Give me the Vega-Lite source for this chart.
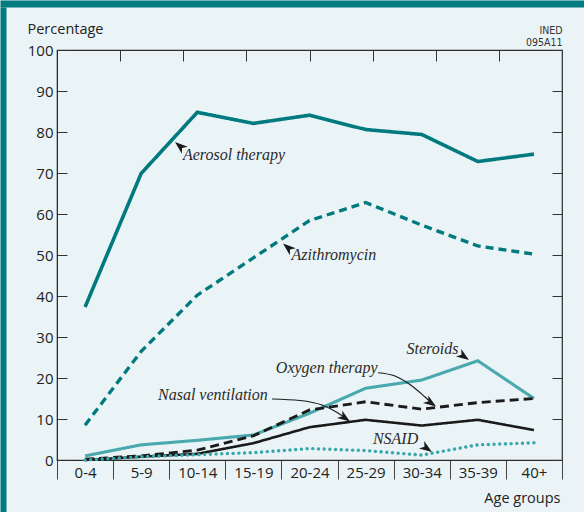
{
  "$schema": "https://vega.github.io/schema/vega-lite/v6.json",
  "width": 505,
  "height": 410,
  "autosize": {"type": "none"},
  "padding": {"left": 57, "top": 50, "right": 22, "bottom": 52},
  "background": "#eaf4f6",
  "config": {
    "view": {"stroke": "#2b2b2b", "strokeWidth": 1.2},
    "axis": {"grid": false, "labelFont": "Open Sans", "titleFont": "Open Sans", "labelColor": "#222", "titleColor": "#222", "tickColor": "#333", "domainColor": "#2b2b2b", "titleFontWeight": "normal"}
  },
  "datasets": {
    "series": [
      {"age": "0-4", "series": "Aerosol therapy", "value": 37.3},
      {"age": "5-9", "series": "Aerosol therapy", "value": 69.9},
      {"age": "10-14", "series": "Aerosol therapy", "value": 84.8},
      {"age": "15-19", "series": "Aerosol therapy", "value": 82.1},
      {"age": "20-24", "series": "Aerosol therapy", "value": 84.1},
      {"age": "25-29", "series": "Aerosol therapy", "value": 80.6},
      {"age": "30-34", "series": "Aerosol therapy", "value": 79.4},
      {"age": "35-39", "series": "Aerosol therapy", "value": 72.8},
      {"age": "40+", "series": "Aerosol therapy", "value": 74.6},
      {"age": "0-4", "series": "Azithromycin", "value": 8.5},
      {"age": "5-9", "series": "Azithromycin", "value": 26.5},
      {"age": "10-14", "series": "Azithromycin", "value": 40.2},
      {"age": "15-19", "series": "Azithromycin", "value": 49.3},
      {"age": "20-24", "series": "Azithromycin", "value": 58.4},
      {"age": "25-29", "series": "Azithromycin", "value": 62.8},
      {"age": "30-34", "series": "Azithromycin", "value": 57.3},
      {"age": "35-39", "series": "Azithromycin", "value": 52.2},
      {"age": "40+", "series": "Azithromycin", "value": 50.2},
      {"age": "0-4", "series": "Steroids", "value": 1.0},
      {"age": "5-9", "series": "Steroids", "value": 3.7},
      {"age": "10-14", "series": "Steroids", "value": 4.8},
      {"age": "15-19", "series": "Steroids", "value": 6.1},
      {"age": "20-24", "series": "Steroids", "value": 11.4},
      {"age": "25-29", "series": "Steroids", "value": 17.5},
      {"age": "30-34", "series": "Steroids", "value": 19.5},
      {"age": "35-39", "series": "Steroids", "value": 24.2},
      {"age": "40+", "series": "Steroids", "value": 15.0},
      {"age": "0-4", "series": "Oxygen therapy", "value": 0.2},
      {"age": "5-9", "series": "Oxygen therapy", "value": 1.0},
      {"age": "10-14", "series": "Oxygen therapy", "value": 2.4},
      {"age": "15-19", "series": "Oxygen therapy", "value": 5.9},
      {"age": "20-24", "series": "Oxygen therapy", "value": 12.2},
      {"age": "25-29", "series": "Oxygen therapy", "value": 14.2},
      {"age": "30-34", "series": "Oxygen therapy", "value": 12.4},
      {"age": "35-39", "series": "Oxygen therapy", "value": 14.0},
      {"age": "40+", "series": "Oxygen therapy", "value": 15.0},
      {"age": "0-4", "series": "Nasal ventilation", "value": 0.0},
      {"age": "5-9", "series": "Nasal ventilation", "value": 0.8},
      {"age": "10-14", "series": "Nasal ventilation", "value": 1.5},
      {"age": "15-19", "series": "Nasal ventilation", "value": 4.1},
      {"age": "20-24", "series": "Nasal ventilation", "value": 8.0},
      {"age": "25-29", "series": "Nasal ventilation", "value": 9.8},
      {"age": "30-34", "series": "Nasal ventilation", "value": 8.4},
      {"age": "35-39", "series": "Nasal ventilation", "value": 9.8},
      {"age": "40+", "series": "Nasal ventilation", "value": 7.3},
      {"age": "0-4", "series": "NSAID", "value": 0.0},
      {"age": "5-9", "series": "NSAID", "value": 0.8},
      {"age": "10-14", "series": "NSAID", "value": 1.3},
      {"age": "15-19", "series": "NSAID", "value": 1.8},
      {"age": "20-24", "series": "NSAID", "value": 2.8},
      {"age": "25-29", "series": "NSAID", "value": 2.3},
      {"age": "30-34", "series": "NSAID", "value": 1.2},
      {"age": "35-39", "series": "NSAID", "value": 3.7},
      {"age": "40+", "series": "NSAID", "value": 4.2}
    ],
    "notes": [
      {"label": "Aerosol therapy", "gx": 2.245, "value": 74.4},
      {"label": "Azithromycin", "gx": 4.18, "value": 50.0},
      {"label": "Steroids", "gx": 6.23, "value": 27.1},
      {"label": "Oxygen therapy", "gx": 3.9, "value": 22.4},
      {"label": "Nasal ventilation", "gx": 1.8, "value": 15.9},
      {"label": "NSAID", "gx": 5.63, "value": 5.1}
    ],
    "leaders": [
      {"arrow": "Oxygen therapy", "step": 1, "gx": 5.721, "value": 21.29},
      {"arrow": "Oxygen therapy", "step": 2, "gx": 6.024, "value": 20.49},
      {"arrow": "Oxygen therapy", "step": 3, "gx": 6.327, "value": 18.05},
      {"arrow": "Oxygen therapy", "step": 4, "gx": 6.559, "value": 15.37},
      {"arrow": "Oxygen therapy", "step": 5, "gx": 6.719, "value": 13.41},
      {"arrow": "Nasal ventilation", "step": 1, "gx": 3.832, "value": 14.88},
      {"arrow": "Nasal ventilation", "step": 2, "gx": 4.331, "value": 14.51},
      {"arrow": "Nasal ventilation", "step": 3, "gx": 4.723, "value": 13.41},
      {"arrow": "Nasal ventilation", "step": 4, "gx": 5.008, "value": 11.46},
      {"arrow": "Nasal ventilation", "step": 5, "gx": 5.186, "value": 9.76}
    ],
    "tips": [
      {"arrow": "Aerosol therapy", "gx": 2.103, "value": 77.56, "pointing": "up-left"},
      {"arrow": "Azithromycin", "gx": 4.028, "value": 52.8, "pointing": "up-left"},
      {"arrow": "Steroids", "gx": 7.343, "value": 24.39, "pointing": "down-right"},
      {"arrow": "NSAID", "gx": 6.683, "value": 1.95, "pointing": "down-right"},
      {"arrow": "Oxygen therapy", "gx": 6.755, "value": 13.05, "pointing": "down-right"},
      {"arrow": "Nasal ventilation", "gx": 5.222, "value": 9.39, "pointing": "down-right"}
    ]
  },
  "layer": [
    {
      "data": {"values": [{}]},
      "mark": {"type": "point", "opacity": 0},
      "encoding": {
        "x": {"datum": 0, "type": "quantitative", "scale": {"domain": [0, 1], "range": [-57, 527]}, "axis": {"orient": "top", "offset": 46.5, "domainColor": "#007b80", "domainWidth": 7, "ticks": false, "labels": false, "title": null}},
        "y": {"datum": 0, "type": "quantitative", "scale": {"domain": [0, 1], "range": [462, -43]}, "axis": {"orient": "left", "offset": 54, "domainColor": "#007b80", "domainWidth": 6, "ticks": false, "labels": false, "title": null}}
      }
    },
    {
      "data": {"values": [{}]},
      "mark": {"type": "point", "opacity": 0},
      "encoding": {
        "x": {"datum": 0, "type": "quantitative", "scale": {"domain": [0, 8], "nice": false}, "axis": {"orient": "top", "values": [1, 2, 3, 4, 5, 6, 7], "tickSize": -11, "tickColor": "#333", "labels": false, "domain": false, "title": ["INED", "095A11"], "titleFont": "Liberation Sans Narrow, DejaVu Sans Condensed, sans-serif", "titleFontSize": 10.5, "titleLineHeight": 12, "titleX": 505, "titleY": -17, "titleAlign": "right", "titleBaseline": "alphabetic", "titleColor": "#333"}},
        "y": {"datum": 0, "type": "quantitative", "scale": {"domain": [0, 100], "nice": false}, "axis": {"orient": "right", "values": [0, 10, 20, 30, 40, 50, 60, 70, 80, 90, 100], "tickSize": -10, "labels": false, "domain": false, "title": null}}
      }
    },
    {
      "data": {"name": "series"},
      "transform": [{"filter": "datum.series !== 'NSAID'"}],
      "mark": {"type": "line", "strokeCap": "butt", "strokeJoin": "miter"},
      "encoding": {
        "x": {"field": "age", "type": "ordinal", "scale": {"type": "band", "domain": ["0-4", "5-9", "10-14", "15-19", "20-24", "25-29", "30-34", "35-39", "40+"], "paddingInner": 0, "paddingOuter": 0}, "axis": {"orient": "bottom", "title": "Age groups", "titleFontSize": 14.5, "titleX": 503, "titleY": 42, "titleAlign": "right", "titleAnchor": null, "titleBaseline": "alphabetic", "labelAngle": 0, "labelFontSize": 15, "tickBand": "extent", "tickSize": 19, "tickColor": "#444", "labelPadding": -2, "labelBaseline": "alphabetic", "domainColor": "#2b2b2b"}},
        "y": {"field": "value", "type": "quantitative", "scale": {"domain": [0, 100], "nice": false}, "axis": {"orient": "left", "values": [0, 10, 20, 30, 40, 50, 60, 70, 80, 90, 100], "tickSize": -10, "labelPadding": 14, "labelFontSize": 15, "title": "Percentage", "titleFontSize": 14.5, "titleAngle": 0, "titleX": -30, "titleY": -17, "titleAlign": "left", "titleBaseline": "alphabetic"}},
        "detail": {"field": "series"},
        "color": {"field": "series", "type": "nominal", "legend": null, "scale": {"domain": ["Aerosol therapy", "Azithromycin", "Steroids", "Oxygen therapy", "Nasal ventilation"], "range": ["#007a7f", "#007a7f", "#4aa9ae", "#1a1a1a", "#1a1a1a"]}},
        "strokeDash": {"field": "series", "type": "nominal", "legend": null, "scale": {"domain": ["Aerosol therapy", "Azithromycin", "Steroids", "Oxygen therapy", "Nasal ventilation"], "range": [[1, 0], [8, 5], [1, 0], [9, 5], [1, 0]]}},
        "strokeWidth": {"field": "series", "type": "nominal", "legend": null, "scale": {"domain": ["Aerosol therapy", "Azithromycin", "Steroids", "Oxygen therapy", "Nasal ventilation"], "range": [3.6, 2.6, 3.6, 2.6, 2.1]}}
      }
    },
    {
      "data": {"name": "series"},
      "transform": [{"filter": "datum.series === 'NSAID'"}],
      "mark": {"type": "line", "color": "#3aa7ab", "strokeWidth": 3.4, "strokeCap": "round", "strokeDash": [0.1, 5.6]},
      "encoding": {
        "x": {"field": "age", "type": "ordinal", "scale": {"type": "band", "domain": ["0-4", "5-9", "10-14", "15-19", "20-24", "25-29", "30-34", "35-39", "40+"], "paddingInner": 0, "paddingOuter": 0}, "axis": null},
        "y": {"field": "value", "type": "quantitative", "scale": {"domain": [0, 100], "nice": false}, "axis": null}
      }
    },
    {
      "data": {"name": "leaders"},
      "mark": {"type": "line", "color": "#1a1a1a", "strokeWidth": 1.1, "interpolate": "monotone"},
      "encoding": {
        "x": {"field": "gx", "type": "quantitative", "scale": {"domain": [0, 9], "nice": false, "zero": false}, "axis": null},
        "y": {"field": "value", "type": "quantitative", "scale": {"domain": [0, 100], "nice": false}, "axis": null},
        "detail": {"field": "arrow"},
        "order": {"field": "step"}
      }
    },
    {
      "data": {"name": "tips"},
      "mark": {"type": "point", "filled": true, "color": "#1a1a1a", "opacity": 1, "size": 650, "shape": "M0,0L0.36,1L0,0.72L-0.36,1Z"},
      "encoding": {
        "x": {"field": "gx", "type": "quantitative", "scale": {"domain": [0, 9], "nice": false, "zero": false}, "axis": null},
        "y": {"field": "value", "type": "quantitative", "scale": {"domain": [0, 100], "nice": false}, "axis": null},
        "angle": {"field": "pointing", "type": "nominal", "legend": null, "scale": {"domain": ["up-left", "down-right"], "range": [310, 125]}}
      }
    },
    {
      "data": {"name": "notes"},
      "mark": {"type": "text", "font": "Liberation Serif", "fontStyle": "italic", "fontSize": 16, "color": "#2a2a2a", "align": "left", "baseline": "middle"},
      "encoding": {
        "x": {"field": "gx", "type": "quantitative", "scale": {"domain": [0, 9], "nice": false, "zero": false}, "axis": null},
        "y": {"field": "value", "type": "quantitative", "scale": {"domain": [0, 100], "nice": false}, "axis": null},
        "text": {"field": "label"}
      }
    }
  ],
  "resolve": {"scale": {"x": "independent", "y": "independent", "color": "independent", "strokeDash": "independent", "strokeWidth": "independent", "angle": "independent"}, "axis": {"x": "independent", "y": "independent"}}
}
